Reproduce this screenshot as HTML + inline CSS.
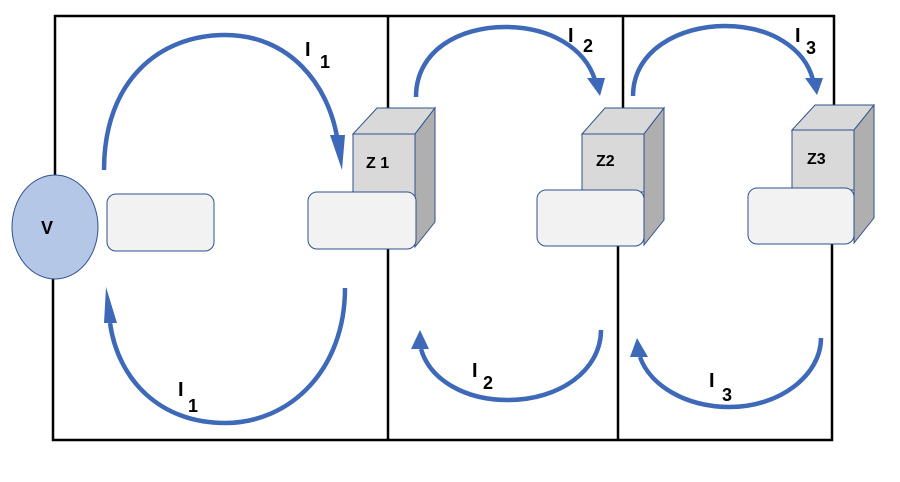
<!DOCTYPE html>
<html><head><style>
body{margin:0;background:#fff;}
svg{display:block;}
text{font-family:"Liberation Sans",sans-serif;font-weight:bold;fill:#000;}
</style></head><body>
<svg width="900" height="482" viewBox="0 0 900 482" xmlns="http://www.w3.org/2000/svg">
<g stroke="#000" stroke-width="2.5" fill="none">
<polyline points="55,176 55,16 834,16 834,106"/>
<polyline points="53,279 53,440 832,440 832,244"/>
<line x1="388" y1="16" x2="388" y2="108"/>
<line x1="388" y1="248" x2="388" y2="440"/>
<line x1="623" y1="16" x2="623" y2="108"/>
<line x1="618" y1="246" x2="618" y2="440"/>
</g>
<ellipse cx="55" cy="227" rx="43" ry="52" fill="#b4c7e7" stroke="#2f528f" stroke-width="1"/>
<text x="41" y="234" style="font-size:18px">V</text>
<rect x="107" y="194" width="107" height="57" rx="9" fill="#f2f2f2" stroke="#2f528f" stroke-width="1"/>
<g stroke="#2f528f" stroke-width="1">
<polygon points="353,134 377,108 435,108 415,134" fill="#d9d9d9"/>
<polygon points="415,134 435,108 435,222 415,247" fill="#afafaf"/>
<rect x="353" y="134" width="62" height="62" fill="#d9d9d9"/>
<rect x="308" y="192" width="108" height="57" rx="9" fill="#f2f2f2"/>
<polygon points="582,134 605,108 664,108 644,134" fill="#d9d9d9"/>
<polygon points="644,134 664,108 664,220 644,245" fill="#afafaf"/>
<rect x="582" y="134" width="62" height="58" fill="#d9d9d9"/>
<rect x="537" y="190" width="107" height="56" rx="9" fill="#f2f2f2"/>
<polygon points="792,130 815,105 874,105 854,130" fill="#d9d9d9"/>
<polygon points="854,130 874,105 874,218 854,243" fill="#afafaf"/>
<rect x="792" y="130" width="62" height="60" fill="#d9d9d9"/>
<rect x="748" y="188" width="106" height="56" rx="9" fill="#f2f2f2"/>
</g>
<text x="366" y="168" style="font-size:16px">Z 1</text>
<text x="596" y="166" style="font-size:16px">Z2</text>
<text x="807" y="164" style="font-size:16px">Z3</text>
<g stroke="#3e68b8" stroke-width="4.5" fill="none">
<path d="M104,170 C104,80 160,35 225,35 C290,35 328,85 337,137"/>
<path d="M345,288 C345,370 290,423 225,423 C160,423 118,380 110,323"/>
<path d="M416,97 C416,50 460,27 505,27 C550,27 585,48 595,80"/>
<path d="M633,96 C633,50 680,26 725,26 C770,26 805,48 813,80"/>
<path d="M601,330 C601,370 560,400 508,400 C465,400 430,380 421,349"/>
<path d="M821,338 C821,375 780,407 730,407 C685,407 650,385 640,357"/>
</g>
<g fill="#3e68b8">
<polygon points="330,135 345,135 342,170"/>
<polygon points="104,323 117,323 106,287"/>
<polygon points="587,78 605,78 600,96"/>
<polygon points="805,78 823,78 817,95"/>
<polygon points="411,349 429,349 420,330"/>
<polygon points="630,357 648,357 637,338"/>
</g>
<g>
<text x="305" y="56" style="font-size:20px">I</text><text x="320" y="68" style="font-size:18px">1</text>
<text x="178" y="396" style="font-size:20px">I</text><text x="188" y="412" style="font-size:18px">1</text>
<text x="568" y="42" style="font-size:20px">I</text><text x="583" y="52" style="font-size:18px">2</text>
<text x="795" y="42" style="font-size:20px">I</text><text x="806" y="54" style="font-size:18px">3</text>
<text x="472" y="377" style="font-size:20px">I</text><text x="483" y="389" style="font-size:18px">2</text>
<text x="709" y="387" style="font-size:20px">I</text><text x="722" y="401" style="font-size:18px">3</text>
</g>
</svg>
</body></html>
